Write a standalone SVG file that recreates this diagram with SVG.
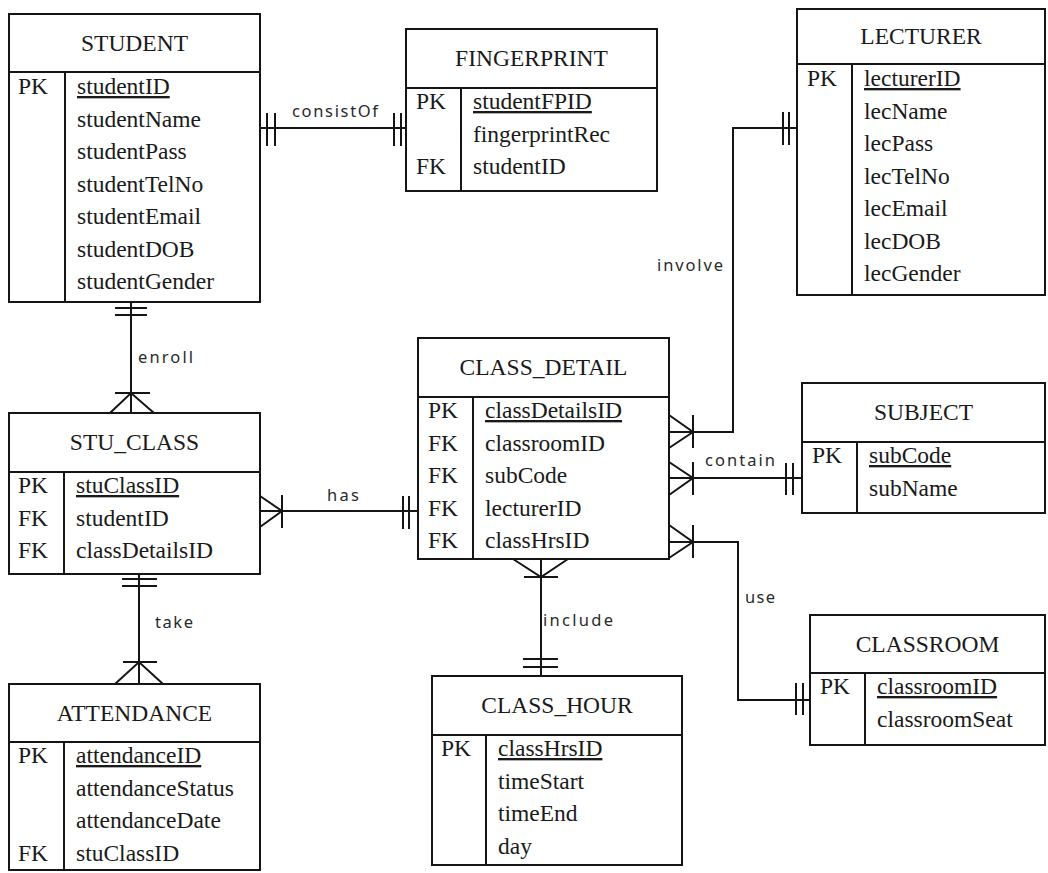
<svg xmlns="http://www.w3.org/2000/svg" width="1048" height="873" viewBox="0 0 1048 873">
  <style>
    .box { fill: #ffffff; stroke: #151515; stroke-width: 2; }
    .sep { stroke: #151515; stroke-width: 2; fill: none; }
    .title { font-family: "Liberation Serif", "Times New Roman", serif; font-size: 23.5px; fill: #1a1a1a; text-anchor: middle; }
    .key { font-family: "Liberation Serif", "Times New Roman", serif; font-size: 23.5px; fill: #1a1a1a; }
    .attr { font-family: "Liberation Serif", "Times New Roman", serif; font-size: 23.5px; fill: #1a1a1a; }
    .pk { text-decoration: underline; }
    .conn { stroke: #151515; stroke-width: 2; fill: none; }
    .rel { font-family: "Noto Sans", "Open Sans", "DejaVu Sans", sans-serif; font-size: 16.5px; fill: #2a2a2a; }
  </style>
  <rect width="1048" height="873" fill="#ffffff"/>

  <!-- relationships -->
  <g id="connectors">
    <!-- STUDENT || consistOf || FINGERPRINT -->
    <path class="conn" d="M259,128 H406 M267,113 V146 M275,113 V146 M394,113 V146 M401,113 V146"/>
    <!-- STUDENT || enroll >| STU_CLASS -->
    <path class="conn" d="M131,302 V413 M115,308 H147 M115,315 H147 M115,393 H150 M110,413 L131,393 L154,413"/>
    <!-- STU_CLASS |< has || CLASS_DETAIL -->
    <path class="conn" d="M260,511 H418 M282,495 V528 M260,496 L282,511 L260,527 M403,496 V529 M409,496 V529"/>
    <!-- STU_CLASS || take >| ATTENDANCE -->
    <path class="conn" d="M139,574 V684 M122,579 H157 M122,586 H157 M123,662 H157 M115,684 L139,662 L163,684"/>
    <!-- CLASS_DETAIL >| include || CLASS_HOUR -->
    <path class="conn" d="M541,559 V676 M524,577 H558 M513,559 L541,577 L568,559 M523,659 H558 M523,667 H558"/>
    <!-- CLASS_DETAIL |< involve || LECTURER -->
    <path class="conn" d="M669,432 H733 V128 H797 M693,415 V448 M669,415 L693,432 L669,448 M783,112 V145 M789,112 V145"/>
    <!-- CLASS_DETAIL |< contain || SUBJECT -->
    <path class="conn" d="M669,478 H802 M693,462 V495 M669,462 L693,478 L669,495 M786,463 V495 M793,463 V495"/>
    <!-- CLASS_DETAIL |< use || CLASSROOM -->
    <path class="conn" d="M669,542 H738 V700 H810 M693,525 V558 M669,525 L693,542 L669,558 M796,683 V715 M803,683 V715"/>

    <text class="rel" x="292" y="117" textLength="86" lengthAdjust="spacing">consistOf</text>
    <text class="rel" x="138" y="363" textLength="55" lengthAdjust="spacing">enroll</text>
    <text class="rel" x="327" y="501" textLength="32" lengthAdjust="spacing">has</text>
    <text class="rel" x="155" y="628" textLength="38" lengthAdjust="spacing">take</text>
    <text class="rel" x="543" y="626" textLength="70" lengthAdjust="spacing">include</text>
    <text class="rel" x="657" y="271" textLength="66" lengthAdjust="spacing">involve</text>
    <text class="rel" x="705" y="466" textLength="70" lengthAdjust="spacing">contain</text>
    <text class="rel" x="745" y="603" textLength="30" lengthAdjust="spacing">use</text>
  </g>

  <g id="student">
    <rect class="box" x="9" y="14" width="251" height="288"/>
    <path class="sep" d="M9,72 H260 M65,72 V302"/>
    <text class="title" x="134.5" y="51">STUDENT</text>
    <text class="key" x="18" y="94">PK</text>
    <text class="attr pk" x="77" y="94">studentID</text>
    <text class="attr" x="77" y="126.5">studentName</text>
    <text class="attr" x="77" y="159">studentPass</text>
    <text class="attr" x="77" y="191.5">studentTelNo</text>
    <text class="attr" x="77" y="224">studentEmail</text>
    <text class="attr" x="77" y="256.5">studentDOB</text>
    <text class="attr" x="77" y="289">studentGender</text>
  </g>

  <g id="fingerprint">
    <rect class="box" x="406" y="29" width="251" height="162"/>
    <path class="sep" d="M406,88 H657 M461,88 V191"/>
    <text class="title" x="531.5" y="66">FINGERPRINT</text>
    <text class="key" x="416" y="109">PK</text>
    <text class="attr pk" x="473" y="109">studentFPID</text>
    <text class="attr" x="473" y="141.5">fingerprintRec</text>
    <text class="key" x="416" y="174">FK</text>
    <text class="attr" x="473" y="174">studentID</text>
  </g>

  <g id="lecturer">
    <rect class="box" x="797" y="9" width="248" height="286"/>
    <path class="sep" d="M797,64 H1045 M852,64 V295"/>
    <text class="title" x="921" y="44">LECTURER</text>
    <text class="key" x="807" y="86">PK</text>
    <text class="attr pk" x="864" y="86">lecturerID</text>
    <text class="attr" x="864" y="118.5">lecName</text>
    <text class="attr" x="864" y="151">lecPass</text>
    <text class="attr" x="864" y="183.5">lecTelNo</text>
    <text class="attr" x="864" y="216">lecEmail</text>
    <text class="attr" x="864" y="248.5">lecDOB</text>
    <text class="attr" x="864" y="281">lecGender</text>
  </g>

  <g id="class_detail">
    <rect class="box" x="418" y="338" width="251" height="221"/>
    <path class="sep" d="M418,397 H669 M473,397 V559"/>
    <text class="title" x="543.5" y="375">CLASS_DETAIL</text>
    <text class="key" x="428" y="418">PK</text>
    <text class="attr pk" x="485" y="418">classDetailsID</text>
    <text class="key" x="428" y="450.5">FK</text>
    <text class="attr" x="485" y="450.5">classroomID</text>
    <text class="key" x="428" y="483">FK</text>
    <text class="attr" x="485" y="483">subCode</text>
    <text class="key" x="428" y="515.5">FK</text>
    <text class="attr" x="485" y="515.5">lecturerID</text>
    <text class="key" x="428" y="548">FK</text>
    <text class="attr" x="485" y="548">classHrsID</text>
  </g>

  <g id="subject">
    <rect class="box" x="802" y="383" width="243" height="130"/>
    <path class="sep" d="M802,442 H1045 M857,442 V513"/>
    <text class="title" x="923.5" y="420">SUBJECT</text>
    <text class="key" x="812" y="463">PK</text>
    <text class="attr pk" x="869" y="463">subCode</text>
    <text class="attr" x="869" y="495.5">subName</text>
  </g>

  <g id="stu_class">
    <rect class="box" x="9" y="413" width="251" height="161"/>
    <path class="sep" d="M9,472 H260 M64,472 V574"/>
    <text class="title" x="134.5" y="450">STU_CLASS</text>
    <text class="key" x="18" y="493">PK</text>
    <text class="attr pk" x="76" y="493">stuClassID</text>
    <text class="key" x="18" y="525.5">FK</text>
    <text class="attr" x="76" y="525.5">studentID</text>
    <text class="key" x="18" y="558">FK</text>
    <text class="attr" x="76" y="558">classDetailsID</text>
  </g>

  <g id="attendance">
    <rect class="box" x="9" y="684" width="251" height="186"/>
    <path class="sep" d="M9,742 H260 M64,742 V870"/>
    <text class="title" x="134.5" y="721">ATTENDANCE</text>
    <text class="key" x="18" y="763">PK</text>
    <text class="attr pk" x="76" y="763">attendanceID</text>
    <text class="attr" x="76" y="795.5">attendanceStatus</text>
    <text class="attr" x="76" y="828">attendanceDate</text>
    <text class="key" x="18" y="860.5">FK</text>
    <text class="attr" x="76" y="860.5">stuClassID</text>
  </g>

  <g id="class_hour">
    <rect class="box" x="432" y="676" width="250" height="189"/>
    <path class="sep" d="M432,735 H682 M486,735 V865"/>
    <text class="title" x="557" y="713">CLASS_HOUR</text>
    <text class="key" x="441" y="756">PK</text>
    <text class="attr pk" x="498" y="756">classHrsID</text>
    <text class="attr" x="498" y="788.5">timeStart</text>
    <text class="attr" x="498" y="821">timeEnd</text>
    <text class="attr" x="498" y="853.5">day</text>
  </g>

  <g id="classroom">
    <rect class="box" x="810" y="615" width="235" height="130"/>
    <path class="sep" d="M810,673 H1045 M865,673 V745"/>
    <text class="title" x="927.5" y="652">CLASSROOM</text>
    <text class="key" x="820" y="694">PK</text>
    <text class="attr pk" x="877" y="694">classroomID</text>
    <text class="attr" x="877" y="726.5">classroomSeat</text>
  </g>
</svg>
